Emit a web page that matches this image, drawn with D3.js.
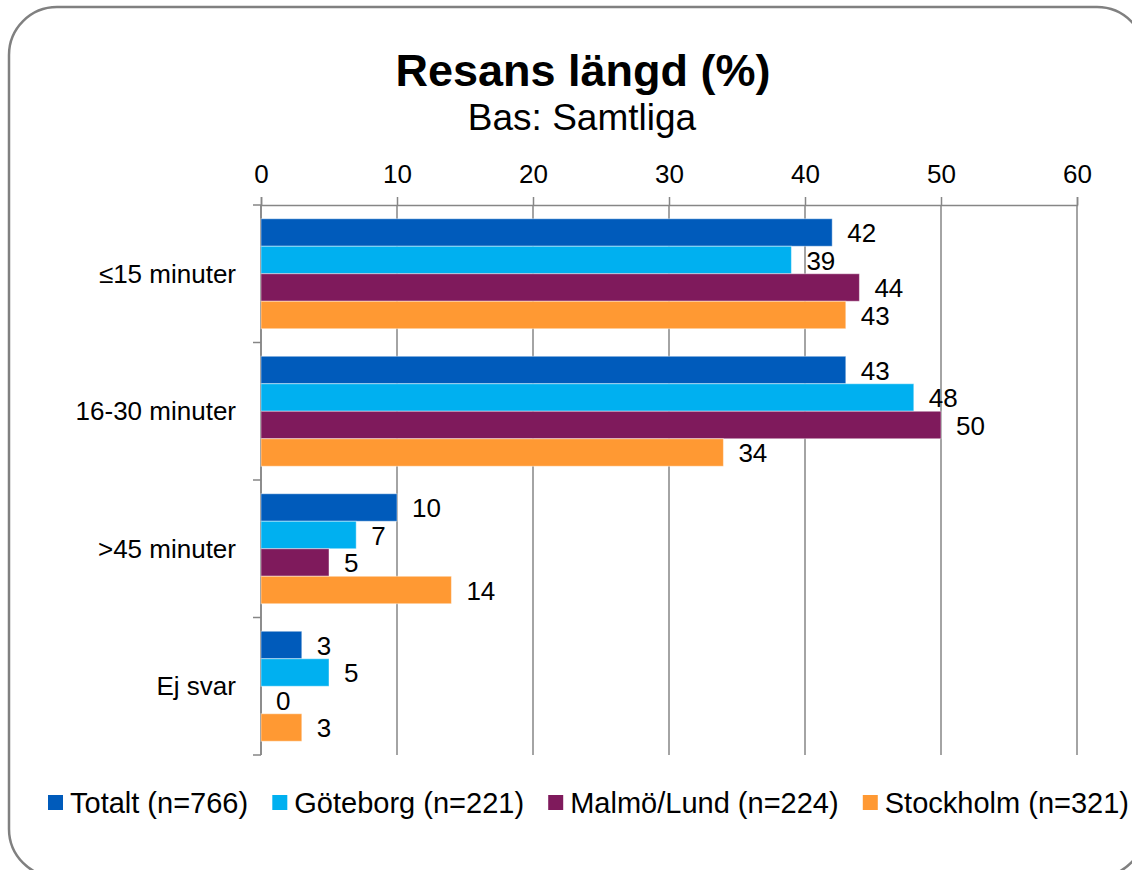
<!DOCTYPE html>
<html>
<head>
<meta charset="utf-8">
<script src="https://cdn.jsdelivr.net/npm/d3@7"></script>
<style>
  html, body { margin: 0; padding: 0; background: #fff; }
  svg { display: block; font-family: "Liberation Sans", Arial, sans-serif; }
</style>
</head>
<body>
<svg id="chart" width="1132" height="870"></svg>
<script>
const categories = ["≤15 minuter", "16-30 minuter", ">45 minuter", "Ej svar"];
const seriesNames = ["Totalt (n=766)", "Göteborg (n=221)", "Malmö/Lund (n=224)", "Stockholm (n=321)"];
const seriesColors = ["#005BBB", "#00B0F0", "#7F1A5C", "#FF9933"];
const totalt    = [42, 43, 10, 3];
const goteborg  = [39, 48, 7, 5];
const malmo     = [44, 50, 5, 0];
const stockholm = [43, 34, 14, 3];
const xTicks = [0, 10, 20, 30, 40, 50, 60];
const titleText = "Resans längd (%)";
const subtitleText = "Bas: Samtliga";

const seriesValues = [totalt, goteborg, malmo, stockholm];
const svg = d3.select("#chart");

// frame
svg.append("rect")
  .attr("x", 9).attr("y", 7).attr("width", 1136).attr("height", 870)
  .attr("rx", 48).attr("ry", 48)
  .attr("fill", "#fff").attr("stroke", "#808080").attr("stroke-width", 2.5);

// title
svg.append("text").attr("x", 583).attr("y", 86).attr("text-anchor", "middle")
  .attr("font-size", 45).attr("font-weight", "bold").attr("fill", "#000").text(titleText);
svg.append("text").attr("x", 582).attr("y", 130).attr("text-anchor", "middle")
  .attr("font-size", 37).attr("fill", "#000").text(subtitleText);

const pLeft = 261, pRight = 1077, pTop = 205, pBottom = 755;
const x = d3.scaleLinear().domain([0, 60]).range([pLeft, pRight]);
const y0 = d3.scaleBand().domain(categories).range([pTop, pBottom]).paddingInner(0).paddingOuter(0);
const y1 = d3.scaleBand().domain(seriesNames).range([0, y0.bandwidth()]).paddingOuter(0.5).paddingInner(0);

const axisColor = "#868686";

// gridlines
svg.append("g").selectAll("line").data(xTicks).join("line")
  .attr("x1", d => x(d)).attr("x2", d => x(d))
  .attr("y1", pTop).attr("y2", pBottom)
  .attr("stroke", axisColor).attr("stroke-width", 1.5);

// top axis
const xAxis = d3.axisTop(x).tickValues(xTicks).tickSize(8).tickPadding(14).tickFormat(d3.format("d"));
const gx = svg.append("g").attr("transform", `translate(0,${pTop})`).call(xAxis);
gx.select(".domain").attr("stroke", axisColor).attr("stroke-width", 1.5);
gx.selectAll(".tick line").attr("stroke", axisColor).attr("stroke-width", 1.5);
gx.selectAll(".tick text").attr("font-size", 26).attr("fill", "#000")
  .attr("font-family", "Liberation Sans, Arial, sans-serif");

// left axis: ticks at band boundaries
const boundaries = d3.range(categories.length + 1).map(i => pTop + i * y0.bandwidth());
svg.append("line").attr("x1", pLeft).attr("x2", pLeft).attr("y1", pTop).attr("y2", pBottom)
  .attr("stroke", axisColor).attr("stroke-width", 1.5);
svg.append("g").selectAll("line").data(boundaries).join("line")
  .attr("x1", pLeft - 8).attr("x2", pLeft).attr("y1", d => d).attr("y2", d => d)
  .attr("stroke", axisColor).attr("stroke-width", 1.5);

// category labels
svg.append("g").selectAll("text").data(categories).join("text")
  .attr("x", 236).attr("y", d => y0(d) + y0.bandwidth() / 2 + 9)
  .attr("text-anchor", "end").attr("font-size", 26).attr("fill", "#000").text(d => d);

// bars
const groups = svg.append("g").selectAll("g").data(categories).join("g")
  .attr("transform", d => `translate(0,${y0(d)})`);
groups.each(function(cat, ci) {
  const g = d3.select(this);
  const data = seriesNames.map((s, si) => ({ s, si, v: seriesValues[si][ci] }));
  g.selectAll("rect").data(data).join("rect")
    .attr("x", x(0)).attr("y", d => y1(d.s))
    .attr("width", d => x(d.v) - x(0)).attr("height", y1.bandwidth())
    .attr("fill", d => seriesColors[d.si])
    .attr("stroke", "rgba(255,255,255,0.45)").attr("stroke-width", 1);
  g.selectAll("text").data(data).join("text")
    .attr("x", d => x(d.v) + 15).attr("y", d => y1(d.s) + y1.bandwidth() / 2 + 9.5)
    .attr("font-size", 26).attr("fill", "#000").text(d => d.v);
});

// legend
const legendY = 813, sq = 15, gapSq = 7, legendLeft = 48, legendRight = 1129;
const lg = svg.append("g");
const items = lg.selectAll("g").data(seriesNames).join("g");
items.append("rect").attr("width", sq).attr("height", sq).attr("y", legendY - 18)
  .attr("fill", (d, i) => seriesColors[i]);
items.append("text").attr("x", sq + gapSq).attr("y", legendY)
  .attr("font-size", 29).attr("fill", "#000").text(d => d);
const widths = [];
items.each(function() { widths.push(this.querySelector("text").getComputedTextLength() + sq + gapSq); });
const totalW = d3.sum(widths);
const gap = (legendRight - legendLeft - totalW) / (seriesNames.length - 1);
let cx = legendLeft;
items.attr("transform", (d, i) => { const t = `translate(${cx},0)`; cx += widths[i] + gap; return t; });
</script>
</body>
</html>
